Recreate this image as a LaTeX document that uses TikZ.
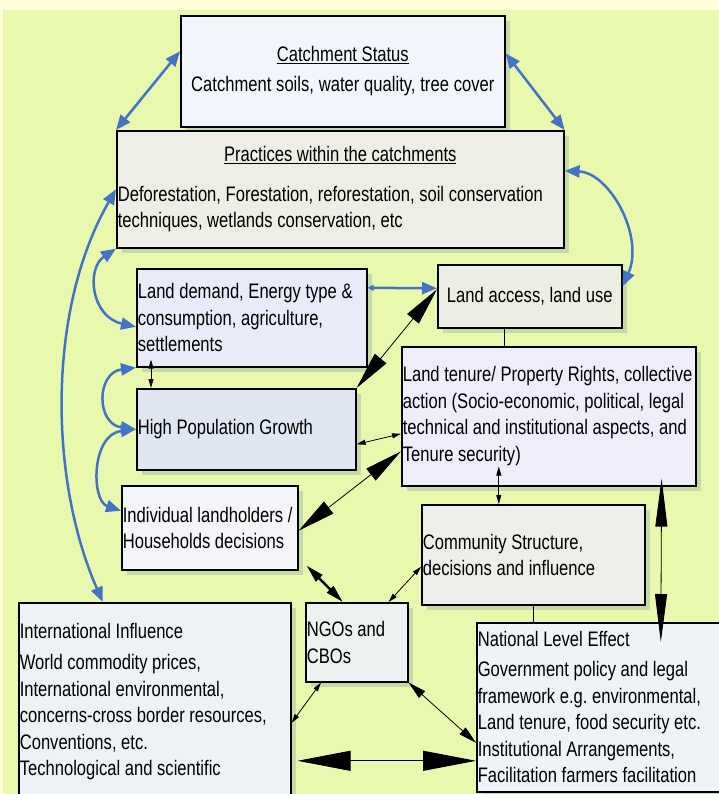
\documentclass[tikz,border=0pt]{standalone}
\usepackage{fontspec}
\setmainfont{Liberation Sans}[FakeStretch=0.79]
\usepackage{xcolor}
\usetikzlibrary{arrows.meta,shadows}

\definecolor{bgcream}{HTML}{FFFFDA}
\definecolor{bggreen}{HTML}{E8F9AE}
\definecolor{shadowgreen}{HTML}{C6D9A8}
\definecolor{linkblue}{HTML}{4472C4}
\definecolor{boxcs}{HTML}{F2F5FC}
\definecolor{boxpr}{HTML}{EEEEE6}
\definecolor{boxld}{HTML}{E9ECF8}
\definecolor{boxla}{HTML}{ECEEE4}
\definecolor{boxlt}{HTML}{EEEEFB}
\definecolor{boxhp}{HTML}{E1E7F2}
\definecolor{boxih}{HTML}{F3F5FA}
\definecolor{boxcm}{HTML}{EDEEEA}
\definecolor{boxng}{HTML}{EEF1F2}
\definecolor{boxii}{HTML}{EEF2F4}
\definecolor{boxne}{HTML}{EFF3F6}

\newcommand{\boxfont}{\fontsize{21}{26.5}\selectfont\frenchspacing\hyphenpenalty=10000\exhyphenpenalty=10000}
\newcommand{\tightspaces}{\fontdimen2\font=4.6pt\relax\spaceskip=4.6pt plus 1pt minus 0.5pt\relax}

\begin{document}
\begin{tikzpicture}[x=1pt,y=1pt,
    box/.style={draw=black, line width=1.6pt, anchor=north west, inner xsep=1pt, inner ysep=0pt, align=left, font=\boxfont,
        execute at begin node=\tightspaces,
        drop shadow={shadow xshift=5pt, shadow yshift=-5pt, fill=shadowgreen, opacity=1}},
    bluearrow/.style={draw=linkblue, line width=2.5pt, arrows={Triangle[length=15pt,width=12pt]-Triangle[length=15pt,width=12pt]}},
    plainline/.style={draw=black, line width=1pt},
    smallarrow/.style={draw=black, line width=0.8pt, arrows={Triangle[length=9pt,width=5pt]-Triangle[length=9pt,width=5pt]}},
    midarrow/.style={draw=black, line width=0.8pt, arrows={Triangle[length=18pt,width=9pt]-Triangle[length=18pt,width=9pt]}},
    bigarrow/.style={draw=black, line width=0.8pt, arrows={Triangle[length=38pt,width=15pt]-Triangle[length=38pt,width=15pt]}},
    tallarrow/.style={draw=black, line width=0.8pt, arrows={Triangle[length=48pt,width=12pt]-Triangle[length=48pt,width=12pt]}},
    widearrow/.style={draw=black, line width=0.8pt, arrows={Triangle[length=53pt,width=20pt]-Triangle[length=53pt,width=20pt]}}]
    \useasboundingbox (0,0) rectangle (719,-794);
    \clip (0,0) rectangle (719,-794);

    %Shape: Background
    \fill[bgcream] (0,0) rectangle (719,-794);
    \fill[bggreen] (3,-10) rectangle (719,-794);

    %Shape: Rectangle - catchment status
    \node[box, fill=boxcs, minimum width=324pt, minimum height=111pt, text width=322pt, align=center] (cs) at (180,-15)
        {\underline{Catchment Status}\\[3.5pt] Catchment soils, water quality, tree cover};
    %Shape: Rectangle - practices
    \node[box, fill=boxpr, minimum width=447pt, minimum height=117pt, text width=445pt] (pr) at (116,-130)
        {\makebox[\linewidth]{\underline{Practices within the catchments}}\\[13pt]
         Deforestation, Forestation, reforestation, soil conservation\\ techniques, wetlands conservation, etc};
    %Shape: Rectangle - land demand
    \node[box, fill=boxld, minimum width=230pt, minimum height=98pt, text width=228pt] (ld) at (136,-268)
        {Land demand, Energy type \&\\ consumption, agriculture,\\ settlements};
    %Shape: Rectangle - land access
    \node[box, fill=boxla, minimum width=184pt, minimum height=63pt, text width=182pt, align=center] (la) at (437,-264)
        {Land access, land use};
    %Shape: Rectangle - land tenure
    \node[box, fill=boxlt, minimum width=294pt, minimum height=139pt, text width=292pt] (lt) at (401,-346)
        {\mbox{Land tenure/ Property Rights, collective}\\ \mbox{action (Socio-economic, political, legal}\\
         \mbox{technical and institutional aspects, and}\\ Tenure security)};
    %Shape: Rectangle - population
    \node[box, fill=boxhp, minimum width=219pt, minimum height=81pt, text width=217pt] (hp) at (136,-388)
        {High Population Growth};
    %Shape: Rectangle - households
    \node[box, fill=boxih, minimum width=176pt, minimum height=84pt, text width=174pt] (ih) at (121,-485)
        {\mbox{Individual landholders /}\\ Households decisions};
    %Shape: Rectangle - community
    \node[box, fill=boxcm, minimum width=223pt, minimum height=100pt, text width=221pt] (cm) at (421,-504)
        {Community Structure,\\ decisions and influence};
    %Shape: Rectangle - ngos
    \node[box, fill=boxng, minimum width=102pt, minimum height=79pt, text width=100pt] (ng) at (305,-602)
        {NGOs and\\ CBOs};
    %Shape: Rectangle - international
    \node[box, fill=boxii, minimum width=272pt, minimum height=198pt, text width=270pt] (ii) at (18,-602)
        {International Influence\\[4.5pt] World commodity prices,\\ International environmental,\\ concerns-cross border resources,\\ Conventions, etc.\\ Technological and scientific};
    %Shape: Rectangle - national
    \node[box, fill=boxne, minimum width=250pt, minimum height=169pt, text width=248pt] (ne) at (476,-622)
        {National Level Effect\\[3.5pt] Government policy and legal\\ framework e.g. environmental,\\ Land tenure, food security etc.\\ Institutional Arrangements,\\ Facilitation farmers facilitation};

    %Curve Lines - blue links
    \draw[bluearrow] ([yshift=20pt]cs.west) -- (pr.north west);
    \draw[bluearrow] ([yshift=18pt]cs.east) -- (pr.north east);
    \draw[bluearrow] ([yshift=18.5pt]pr.east) .. controls +(45,-2) and +(22,50) .. ([yshift=10pt]la.east);
    \draw[bluearrow] (pr.west) .. controls +(-69,-120) and +(-54,123) .. ([xshift=-52pt]ii.north);
    \draw[bluearrow] (pr.south west) .. controls +(-30,-20) and +(-45,10) .. ([yshift=-9pt]ld.west);
    \draw[bluearrow] (ld.south west) .. controls +(-40,-5) and +(-40,5) .. (hp.west);
    \draw[bluearrow] (hp.west) .. controls +(-45,-5) and +(-30,10) .. ([yshift=17pt]ih.west);
    \draw[bluearrow, arrows={Triangle[length=15pt,width=12pt]-Triangle[length=6pt,width=6pt]}] ([yshift=8pt]la.west) -- ([yshift=30pt]ld.east);

    %Straight Lines - black links
    \draw[smallarrow] ([xshift=15pt,yshift=8pt]ld.south west) -- ([xshift=15pt]hp.north west);
    \draw[bigarrow] (hp.north east) -- ([yshift=7pt]la.west);
    \draw[smallarrow] ([yshift=-15pt]hp.east) -- ([yshift=-17.5pt]lt.west);
    \draw[bigarrow] ([yshift=-3pt]ih.east) -- ([yshift=-35pt]lt.west);
    \draw[plainline] ([xshift=-25pt]la.south) -- ([xshift=-44pt]lt.north);
    \draw[smallarrow] ([xshift=-50pt,yshift=20pt]lt.south) -- ([xshift=-34.5pt]cm.north);
    \draw[tallarrow] ([xshift=-35pt,yshift=8pt]lt.south east) -- ([xshift=59pt,yshift=-20pt]ne.north);
    \draw[plainline] (cm.south) -- (cm.south |- ne.north);
    \draw[midarrow, line width=2.5pt] ([xshift=8pt,yshift=5pt]ih.south east) -- ([xshift=-14pt]ng.north);
    \draw[smallarrow] ([yshift=-12pt]cm.west) -- ([xshift=-20pt]ng.north east);
    \draw[smallarrow] ([xshift=16pt]ng.south west) -- ([yshift=-21pt]ii.east);
    \draw[midarrow] (ng.south east) -- ([yshift=-35.5pt]ne.west);
    \draw[widearrow] ([xshift=6pt,yshift=-59pt]ii.east) -- ([yshift=-53.5pt]ne.west);
\end{tikzpicture}
\end{document}
